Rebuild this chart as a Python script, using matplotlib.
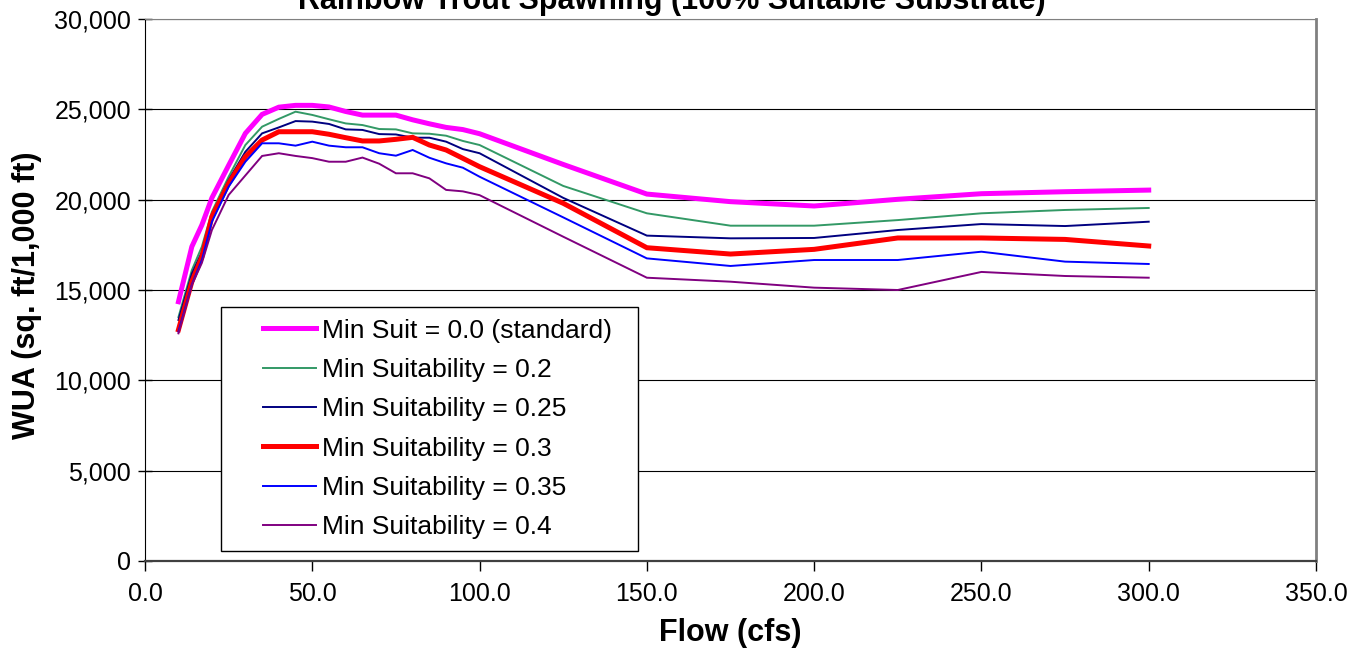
import matplotlib
matplotlib.use("Agg")
import matplotlib.pyplot as plt
from matplotlib.legend_handler import HandlerLine2D
from matplotlib.ticker import FuncFormatter

plt.rcParams['font.family'] = ['Liberation Sans', 'DejaVu Sans']

# flow (cfs)
flow = [10, 14, 17, 20, 25, 30, 35, 40, 45, 50, 55, 60, 65, 70, 75, 80, 85, 90, 95, 100,
        125, 150, 175, 200, 225, 250, 275, 300]

# WUA (sq. ft / 1,000 ft)
wua_00 = [14350, 17400, 18600, 20100, 21900, 23670, 24720, 25120, 25220, 25220, 25130, 24880,
          24680, 24680, 24680, 24420, 24200, 24000, 23880, 23650,
          21950, 20310, 19890, 19650, 20020, 20330, 20440, 20530]
wua_02 = [13500, 16100, 17400, 19330, 21270, 23025, 24040, 24470, 24870, 24690, 24450, 24220,
          24130, 23910, 23890, 23670, 23650, 23540, 23250, 23025,
          20760, 19245, 18560, 18560, 18870, 19245, 19430, 19540]
wua_025 = [13340, 15900, 17100, 19150, 21090, 22650, 23670, 24000, 24350, 24320, 24190, 23890,
           23860, 23630, 23610, 23430, 23430, 23210, 22800, 22570,
           20100, 18010, 17860, 17880, 18320, 18650, 18540, 18780]
wua_03 = [12800, 15460, 16840, 19060, 20900, 22380, 23300, 23760, 23760, 23760, 23620, 23430,
          23250, 23250, 23340, 23450, 23025, 22750, 22290, 21825,
          19800, 17340, 16990, 17250, 17880, 17880, 17800, 17435]
wua_035 = [12700, 15300, 16660, 18780, 20720, 22100, 23120, 23120, 22990, 23210, 22990, 22900,
           22900, 22570, 22435, 22750, 22320, 22010, 21770, 21270,
           19020, 16750, 16330, 16660, 16660, 17120, 16570, 16440]
wua_04 = [12600, 15280, 16500, 18320, 20260, 21340, 22420, 22570, 22420, 22300, 22100, 22100,
          22330, 21990, 21460, 21460, 21180, 20540, 20460, 20250,
          17950, 15680, 15460, 15130, 15000, 16000, 15775, 15680]

labels = ['Min Suit = 0.0 (standard)', 'Min Suitability = 0.2', 'Min Suitability = 0.25',
          'Min Suitability = 0.3', 'Min Suitability = 0.35', 'Min Suitability = 0.4']
series = [wua_00, wua_02, wua_025, wua_03, wua_035, wua_04]
colors = ['#FF00FF', '#339966', '#000080', '#FF0000', '#0000FF', '#800080']
widths = [3.6, 1.4, 1.4, 3.6, 1.4, 1.4]


class OffsetLineHandler(HandlerLine2D):
    # draws the legend line only on the right part of the handle box (Excel style)
    def create_artists(self, legend, orig_handle, xdescent, ydescent, width, height,
                       fontsize, trans):
        arts = super().create_artists(legend, orig_handle, xdescent, ydescent, width,
                                      height, fontsize, trans)
        x = arts[0].get_xdata()
        y = arts[0].get_ydata()
        arts[0].set_data([x[0] + 0.36 * width, x[-1]], [y[0], y[-1]])
        return arts


fig = plt.figure(figsize=(13.65, 6.52), dpi=100)
ax = fig.add_axes([145 / 1365, 1 - 561 / 652, (1316 - 145) / 1365, (561 - 19) / 652])

for y, lab, c, lw in zip(series, labels, colors, widths):
    ax.plot(flow, y, color=c, lw=lw, label=lab, solid_joinstyle='miter', zorder=3)

ax.set_xlim(0, 350)
ax.set_ylim(0, 30000)
ax.set_xticks(range(0, 351, 50))
ax.set_yticks(range(0, 30001, 5000))
ax.xaxis.set_major_formatter(FuncFormatter(lambda v, p: f'{v:.1f}'))
ax.yaxis.set_major_formatter(FuncFormatter(lambda v, p: f'{int(v):,}'))
ax.yaxis.grid(True, color='black', lw=0.8)
ax.set_axisbelow(True)

ax.tick_params(axis='y', direction='inout', length=10, width=1, pad=5, labelsize=18)
ax.tick_params(axis='x', direction='out', length=7, width=1, pad=8, labelsize=18)

ax.spines['left'].set_color('black')
ax.spines['bottom'].set_color('#404040')
ax.spines['bottom'].set_linewidth(1.6)
ax.spines['top'].set_color('#808080')
ax.spines['right'].set_color('#808080')
ax.spines['right'].set_linewidth(2)

leg = ax.legend(loc='lower left',
                bbox_to_anchor=((221 - 145) / 1171, (561 - 551) / 542,
                                (638 - 221) / 1171, (551 - 308) / 542),
                mode='expand', borderaxespad=0, borderpad=0.45, labelspacing=0.58,
                handlelength=3.15, handletextpad=0.22, fontsize=19, fancybox=False,
                framealpha=1, edgecolor='black',
                handler_map={matplotlib.lines.Line2D: OffsetLineHandler()})
leg.get_frame().set_linewidth(1)

fig.text(672 / 1365, 1 - 9 / 652, 'Rainbow Trout Spawning (100% Suitable Substrate)',
         ha='center', va='baseline', fontsize=22, fontweight='bold')
fig.text(730 / 1365, 1 - 633 / 652, 'Flow (cfs)', ha='center', va='center',
         fontsize=22, fontweight='bold')
fig.text(27 / 1365, 1 - 295 / 652, 'WUA (sq. ft/1,000 ft)', ha='center', va='center',
         rotation=90, fontsize=22, fontweight='bold')

fig.savefig('out.png', dpi=100)
